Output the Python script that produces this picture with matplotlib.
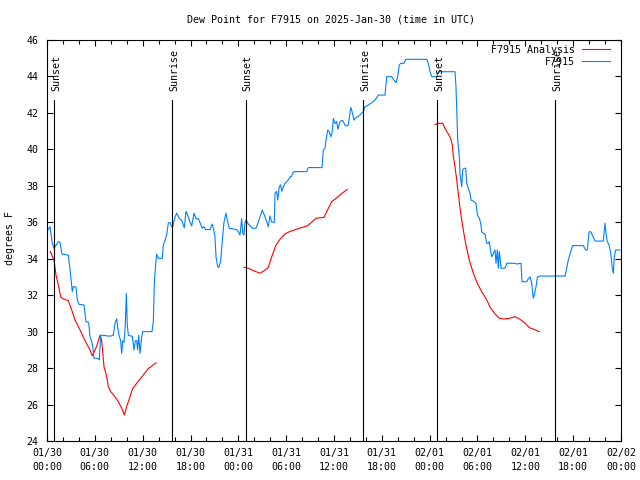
import numpy as np
import matplotlib
matplotlib.use("Agg")
import matplotlib.pyplot as plt
from matplotlib.ticker import MultipleLocator

plt.rcParams['font.family'] = ['DejaVu Sans Mono']

# hours since 2025-01-30 00:00 UTC
obs_hours = [0.0, 0.38, 0.66, 0.88, 1.42, 1.63, 1.88, 2.67, 2.89, 3.1, 3.17, 3.3, 3.64, 3.8,
             4.01, 4.64, 4.89, 5.23, 5.39, 5.61, 5.73, 5.9, 6.31, 6.56, 6.74, 7.06, 7.49, 7.9,
             8.32, 8.53, 8.74, 8.87, 9.03, 9.24, 9.37, 9.5, 9.66, 9.82, 9.95, 10.07, 10.2,
             10.41, 10.7, 10.91, 11.08, 11.25, 11.37, 11.5, 11.67, 11.88, 12.0, 13.17, 13.34,
             13.46, 13.64, 13.76, 13.96, 14.46, 14.59, 14.8, 15.01, 15.22, 15.43, 15.64, 15.77,
             16.06, 16.27, 16.6, 16.9, 17.22, 17.44, 17.72, 17.94, 18.15, 18.44, 18.69, 18.98,
             19.28, 19.48, 19.69, 19.9, 20.45, 20.7, 20.86, 21.07, 21.2, 21.41, 21.58, 21.79,
             21.99, 22.2, 22.45, 22.62, 22.87, 23.8, 24.0, 24.21, 24.42, 24.55, 24.71, 24.84,
             24.96, 25.25, 25.8, 26.22, 26.5, 27.0, 27.35, 27.76, 27.97, 28.19, 28.51, 28.6,
             28.81, 28.94, 29.14, 29.31, 29.44, 29.64, 29.85, 30.07, 30.4, 30.48, 30.69, 30.82,
             31.02, 32.57, 32.78, 34.5, 34.66, 34.87, 35.0, 35.21, 35.41, 35.59, 35.75, 35.92,
             36.13, 36.34, 36.5, 36.75, 37.04, 37.17, 37.38, 37.59, 37.8, 38.1, 38.22, 38.51,
             38.64, 38.97, 39.26, 39.68, 39.89, 40.3, 40.73, 41.14, 41.56, 42.4, 42.61, 43.24,
             43.44, 43.78, 43.99, 44.19, 44.37, 44.78, 44.99, 47.63, 47.83, 48.04, 48.26, 48.88,
             49.08, 51.18, 51.3, 51.43, 51.52, 51.72, 51.8, 52.02, 52.14, 52.31, 52.52, 52.64,
             52.85, 53.06, 53.19, 53.6, 53.81, 53.98, 54.23, 54.4, 54.53, 54.73, 54.94, 55.15,
             55.36, 55.48, 55.66, 55.78, 55.99, 56.2, 56.32, 56.49, 56.61, 56.74, 56.95, 57.45,
             57.66, 58.7, 58.91, 59.46, 59.58, 60.17, 60.37, 60.59, 60.8, 61.0, 61.17, 61.34,
             61.51, 61.84, 64.98, 65.19, 65.39, 65.69, 65.94, 67.27, 67.57, 67.77, 67.99, 68.2,
             68.4, 68.74, 69.78, 69.99, 70.12, 70.28, 70.5, 70.71, 70.91, 71.04, 71.16, 71.34,
             71.88]
obs_dew = [35.5, 35.76, 34.85, 34.57, 34.94, 34.9, 34.26, 34.2, 33.4, 32.47, 32.2, 32.47, 32.44,
           31.74, 31.5, 31.46, 30.55, 30.5, 29.73, 29.45, 29.2, 28.54, 28.54, 28.45, 29.8, 29.8,
           29.77, 29.75, 29.8, 30.46, 30.7, 30.24, 29.8, 29.5, 28.8, 29.5, 29.42, 30.37, 32.1,
           30.37, 29.8, 29.77, 29.75, 29.0, 29.5, 29.5, 29.0, 29.8, 28.8, 29.7, 30.0, 30.0, 30.55,
           32.65, 33.75, 34.26, 34.02, 34.02, 34.76, 35.0, 35.3, 35.98, 35.98, 35.76, 35.76, 36.3,
           36.5, 36.2, 36.1, 35.7, 36.6, 36.3, 36.0, 35.8, 36.5, 36.2, 36.2, 35.9, 35.67, 35.76,
           35.6, 35.6, 35.9, 35.7, 35.2, 34.1, 33.56, 33.52, 33.9, 35.0, 36.0, 36.5, 36.1, 35.67,
           35.6, 35.48, 35.3, 36.2, 35.4, 35.3, 36.0, 36.13, 35.9, 35.67, 35.67, 36.0, 36.67,
           36.3, 35.76, 36.35, 36.0, 36.0, 37.6, 37.7, 37.22, 37.95, 38.05, 37.7, 37.95, 38.13,
           38.23, 38.4, 38.5, 38.52, 38.7, 38.78, 38.78, 39.0, 39.0, 39.97, 40.06, 40.5, 41.06,
           40.97, 40.7, 40.88, 41.7, 41.42, 41.52, 41.1, 41.52, 41.6, 41.52, 41.33, 41.28, 41.33,
           42.3, 42.16, 41.6, 41.7, 41.79, 41.89, 42.07, 42.34, 42.43, 42.56, 42.7, 42.98, 42.98,
           43.99, 43.99, 43.84, 43.66, 43.99, 44.63, 44.72, 44.72, 44.94, 44.94, 44.72, 44.26,
           43.99, 43.99, 44.26, 44.26, 43.44, 41.79, 40.51, 39.6, 38.68, 37.95, 38.87, 38.96,
           38.96, 38.14, 37.86, 37.59, 37.22, 37.13, 37.04, 36.4, 36.22, 35.95, 35.48, 35.4,
           35.36, 34.85, 34.85, 34.94, 34.39, 34.11, 34.3, 34.48, 33.75, 34.48, 33.48, 34.39,
           33.48, 33.48, 33.75, 33.75, 33.71, 33.75, 32.74, 32.74, 32.9, 33.0, 32.65, 31.83, 32.1,
           32.47, 33.0, 33.05, 33.05, 33.48, 33.93, 34.39, 34.72, 34.72, 34.48, 34.48, 35.48,
           35.48, 35.3, 34.97, 34.97, 35.95, 35.4, 34.94, 34.76, 34.3, 33.48, 33.2, 34.11, 34.48,
           34.48]

# analysis runs, NaN separates the three pieces
ana_hours = [0.4, 0.88, 1.13, 1.42, 1.72, 2.04, 2.67, 3.1, 3.51, 4.14, 4.77, 5.39, 5.68, 6.23,
             6.65, 6.86, 7.15, 7.49, 7.69, 7.99, 8.4, 8.94, 9.37, 9.7, 10.0, 10.41, 10.7, 11.25,
             12.08, 12.71, 13.13, 13.67, np.nan,
             24.71, 25.25, 25.88, 26.72, 27.35, 27.76, 28.19, 28.73, 29.23, 29.85, 30.48, 31.32,
             31.95, 32.65, 33.2, 33.74, 34.75, 35.29, 35.71, 36.25, 36.75, 37.17, 37.67, np.nan,
             48.67, 49.08, 49.64, 49.92, 50.34, 50.64, 50.84, 50.97, 51.18, 51.39, 51.59, 51.81,
             52.02, 52.22, 52.43, 52.65, 52.97, 53.48, 53.98, 54.53, 55.15, 55.66, 56.2, 56.74,
             57.24, 57.87, 58.7, 59.33, 59.96, 60.5, 61.21, 61.75]
ana_dew = [34.4, 33.93, 33.1, 32.56, 31.9, 31.8, 31.7, 31.19, 30.64, 30.1, 29.5, 29.0, 28.67, 29.2,
           29.8, 29.5, 28.08, 27.53, 26.98, 26.71, 26.5, 26.16, 25.8, 25.43, 25.9, 26.43, 26.84,
           27.17, 27.62, 27.98, 28.1, 28.3, np.nan,
           33.53, 33.48, 33.35, 33.2, 33.38, 33.53, 34.11, 34.75, 35.07, 35.36, 35.5, 35.62,
           35.71, 35.8, 36.0, 36.22, 36.27, 36.77, 37.13, 37.31, 37.5, 37.64, 37.8, np.nan,
           41.35, 41.43, 41.43, 41.15, 40.84, 40.6, 40.24, 39.6, 39.05, 38.32, 37.59, 36.77,
           36.13, 35.58, 35.03, 34.57, 33.93, 33.2, 32.65, 32.19, 31.74, 31.28, 30.97, 30.73,
           30.7, 30.71, 30.82, 30.68, 30.46, 30.22, 30.1, 30.0]

sun_hours = [0.92, 15.72, 24.96, 39.68, 48.96, 63.76]
sun_names = ['Sunset', 'Sunrise', 'Sunset', 'Sunrise', 'Sunset', 'Sunrise']

tick_hours = list(range(0, 73, 6))
tick_labels = ['01/30\n00:00', '01/30\n06:00', '01/30\n12:00', '01/30\n18:00',
               '01/31\n00:00', '01/31\n06:00', '01/31\n12:00', '01/31\n18:00',
               '02/01\n00:00', '02/01\n06:00', '02/01\n12:00', '02/01\n18:00',
               '02/02\n00:00']

fs = 7.2
lw = 0.8

fig = plt.figure(figsize=(6.4, 4.8), dpi=100)
ax = fig.add_axes([47/640, 39/480, 574/640, 401/480])

ax.plot(ana_hours, ana_dew, color='#ff0000', lw=lw, label='F7915 Analysis')
ax.plot(obs_hours, obs_dew, color='#0080ff', lw=lw, label='F7915')

# sunrise / sunset markers
for h, name in zip(sun_hours, sun_names):
    ax.axvline(h, ymin=0, ymax=0.85, color='black', lw=lw)
    ax.text(h + 0.2, 0.872, name, transform=ax.get_xaxis_transform(), rotation=90,
            ha='center', va='bottom', fontsize=fs)

ax.set_xlim(0, 72)
ax.set_ylim(24, 46)
ax.set_xticks(tick_hours)
ax.set_xticklabels(tick_labels, linespacing=1.5)
ax.xaxis.set_minor_locator(MultipleLocator(2))
ax.set_yticks(range(24, 47, 2))

ax.tick_params(which='both', direction='in', top=True, right=True, width=lw, labelsize=fs)
ax.tick_params(which='major', length=4)
ax.tick_params(which='minor', length=3)
ax.tick_params(axis='x', pad=5)
ax.tick_params(axis='y', pad=6)
for s in ax.spines.values():
    s.set_linewidth(lw)

ax.legend(loc='upper right', bbox_to_anchor=(1 - 11/574, 1 - 5/401), frameon=False,
          markerfirst=False, fontsize=fs, handlelength=2.8, handletextpad=0.7,
          labelspacing=0.2, borderpad=0, borderaxespad=0)

fig.text(331/640, 1 - 20/480, 'Dew Point for F7915 on 2025-Jan-30 (time in UTC)',
         ha='center', va='center', fontsize=fs)
fig.text(10/640, 242/480, 'degrees F', rotation=90, ha='center', va='center', fontsize=fs)

fig.savefig('out.png', dpi=100)
